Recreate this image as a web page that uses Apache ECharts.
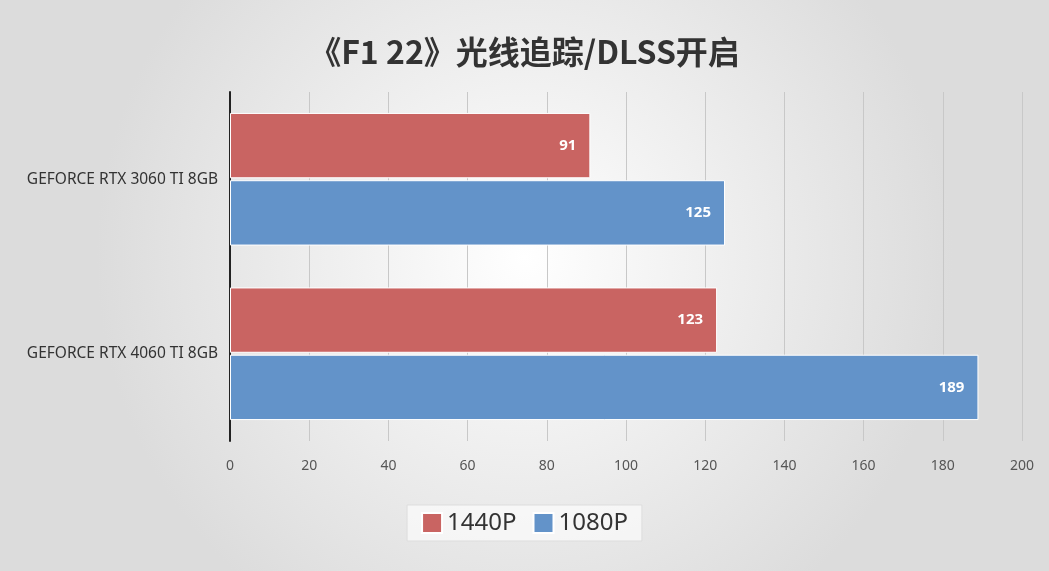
<!DOCTYPE html>
<html><head><meta charset="utf-8">
<script src="https://cdn.jsdelivr.net/npm/echarts@6/dist/echarts.min.js"></script>
<style>html,body{margin:0;padding:0;}#c{width:1049px;height:571px;}</style>
</head><body><div id="c"></div>
<script>
const categories = ['GEFORCE RTX 3060 TI 8GB', 'GEFORCE RTX 4060 TI 8GB'];
const s1440 = [91, 123];
const s1080 = [125, 189];
const xTicks = [0, 20, 40, 60, 80, 100, 120, 140, 160, 180, 200];
const chart = echarts.init(document.getElementById('c'));
const lbl = {show:true, position:'insideRight', color:'#fff', fontWeight:'bold', fontSize:15, distance:14, fontFamily:'Noto Sans'};
chart.setOption({
  backgroundColor: new echarts.graphic.RadialGradient(0.5,0.45,0.75,[{offset:0,color:'#ffffff'},{offset:1,color:'#dcdcdc'}]),
  title:{text:'《F1 22》光线追踪/DLSS开启', left:'center', top:31, textStyle:{fontSize:32, fontWeight:'bold', color:'#333', fontFamily:'Noto Sans CJK SC'}},
  grid:{left:230, right:27, top:92, bottom:130},
  legend:{bottom:30, left:'center', icon:'rect', itemWidth:20, itemHeight:20, itemGap:16, backgroundColor:'rgba(255,255,255,0.6)', borderColor:'#ddd', borderWidth:1, padding:[6,14],
    textStyle:{fontSize:24, color:'#333', fontFamily:'Noto Sans'}, data:['1440P','1080P']},
  xAxis:{type:'value', min:xTicks[0], max:xTicks[xTicks.length-1], interval:20,
    axisLabel:{fontSize:14, color:'#555', margin:18, fontFamily:'Noto Sans'},
    splitLine:{lineStyle:{color:'#c8c8c8'}}, axisLine:{show:false}},
  yAxis:{type:'category', inverse:true, data:categories,
    axisLine:{lineStyle:{color:'#222', width:2}}, axisTick:{show:false},
    axisLabel:{fontSize:15.5, color:'#333', margin:12, fontFamily:'Noto Sans'}},
  series:[
    {name:'1440P', type:'bar', data:s1440, barGap:'3%', barCategoryGap:'24%', itemStyle:{color:'#c96462', borderColor:'#fff', borderWidth:1}, label:lbl},
    {name:'1080P', type:'bar', data:s1080, itemStyle:{color:'#6393c9', borderColor:'#fff', borderWidth:1}, label:lbl}
  ]
});
</script></body></html>
